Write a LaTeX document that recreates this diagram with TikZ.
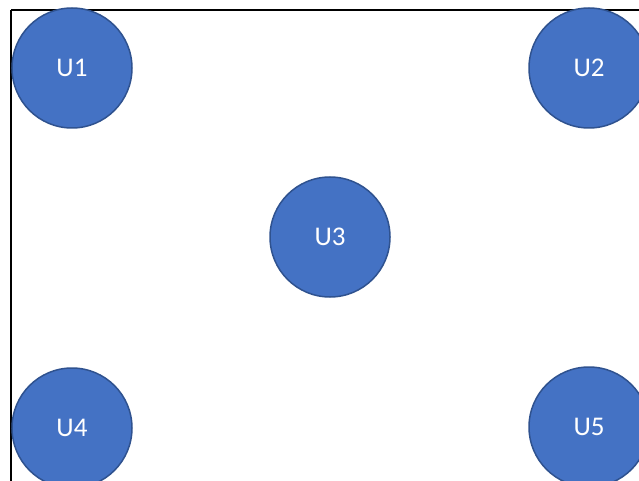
\documentclass[tikz,border=0pt]{standalone}
\usepackage{fontspec}
\setmainfont{Carlito}
\definecolor{unitblue}{HTML}{4472C4}
\definecolor{unitedge}{HTML}{2F528F}
\begin{document}
\begin{tikzpicture}[x=1pt, y=-1pt, every node/.style={},
    unit/.style={circle, fill=unitblue, draw=unitedge, line width=1.5pt,
        minimum size=120pt, inner sep=0pt, text=white,
        font=\fontsize{27}{32}\selectfont}]
				% Page size and clipping
				\useasboundingbox (0,0) rectangle (639,481);
				\clip (0,0) rectangle (639,481);
				\fill[white] (0,0) rectangle (639,481);

				% Frame
				\draw[line width=2.5pt] (11,10) -- (11,500) (11,10) -- (660,10);

				% Manual node positions
				\node[unit] (U1) at (72,68) {U1};
				\node[unit] (U2) at (589,68) {U2};
				\node[unit] (U3) at (330,237) {U3};
				\node[unit] (U4) at (72,428) {U4};
				\node[unit] (U5) at (589,427) {U5};

			\end{tikzpicture}
\end{document}
